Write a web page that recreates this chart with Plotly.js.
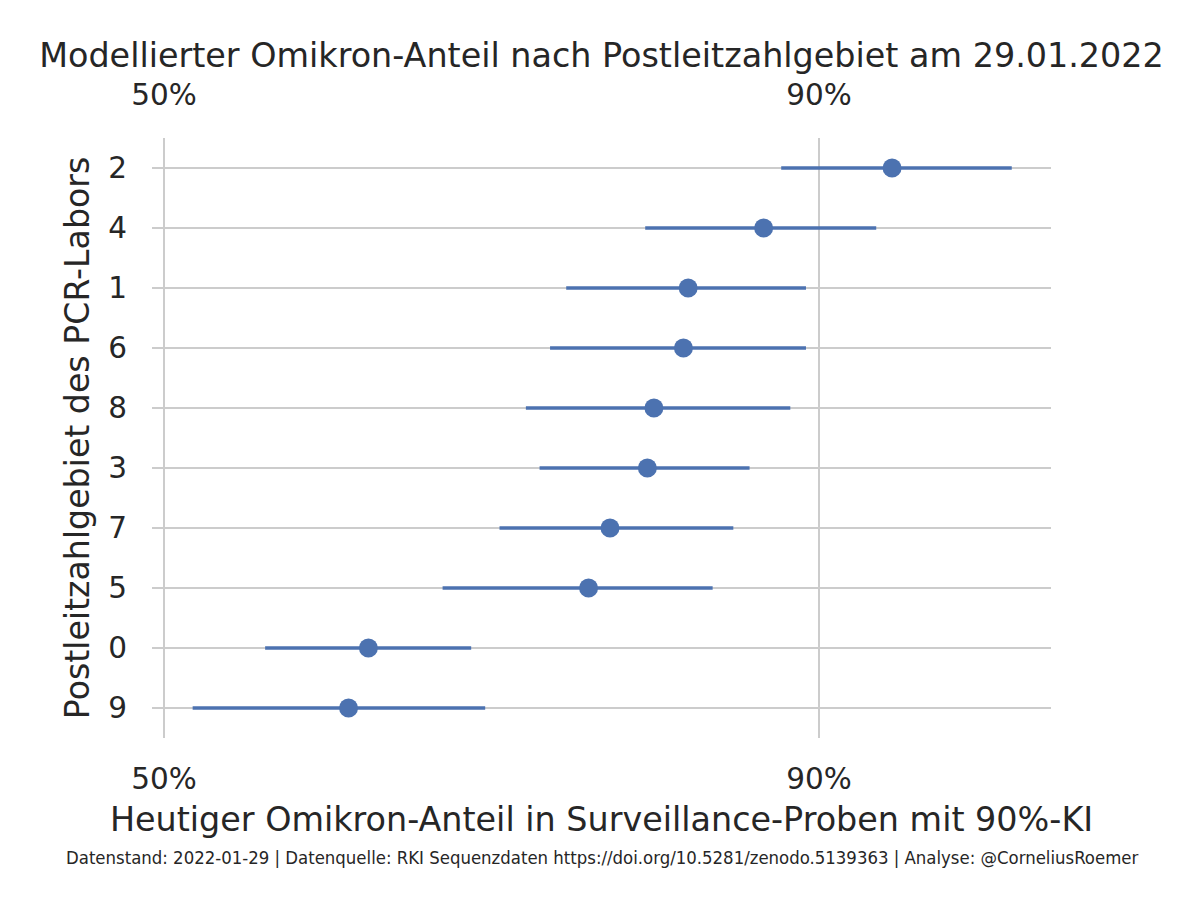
<!DOCTYPE html>
<html>
<head>
<meta charset="utf-8">
<script src="https://cdn.plot.ly/plotly-3.0.1.min.js"></script>
<style>html,body{margin:0;padding:0;background:#fff;}#chart{width:1204px;height:906px;}</style>
</head>
<body>
<div id="chart"></div>
<script>
// Categories (Postleitzahlgebiet), top to bottom
const regions = ["2", "4", "1", "6", "8", "3", "7", "5", "0", "9"];
// Modelled Omicron share (fraction)
const share = [0.920, 0.882, 0.853, 0.851, 0.838, 0.835, 0.817, 0.806, 0.665, 0.650];
// 90% CI lower / upper bounds
const ciLow  = [0.888, 0.834, 0.794, 0.785, 0.771, 0.779, 0.755, 0.718, 0.584, 0.524];
const ciHigh = [0.945, 0.916, 0.896, 0.896, 0.891, 0.877, 0.871, 0.863, 0.737, 0.746];
// Tick labels
const tickShares = [0.5, 0.9];
const tickLabels = ["50%", "90%"];

const logit = p => Math.log(p / (1 - p));
const xs = share.map(logit);
const errPlus = ciHigh.map((h, i) => logit(h) - xs[i]);
const errMinus = ciLow.map((l, i) => xs[i] - logit(l));
const tickVals = tickShares.map(logit);

const blue = "#4c72b0";
const textCol = "#262626";
const grid = "#cccccc";
const xRange = [-0.0403, 2.9755];

const trace = {
  type: "scatter",
  mode: "markers",
  x: xs,
  y: regions,
  marker: {color: blue, size: 19},
  error_x: {
    type: "data", symmetric: false,
    array: errPlus, arrayminus: errMinus,
    color: blue, thickness: 3.6, width: 0
  },
  hoverinfo: "skip",
  showlegend: false
};

const axisCommon = {
  range: xRange,
  tickvals: tickVals,
  ticktext: tickLabels,
  tickfont: {family: "DejaVu Sans", size: 29.5, color: textCol},
  ticks: "outside",
  tickcolor: "rgba(0,0,0,0)",
  zeroline: false,
  showline: false,
  fixedrange: true
};

const layout = {
  width: 1204, height: 906,
  paper_bgcolor: "#ffffff", plot_bgcolor: "#ffffff",
  margin: {l: 152, r: 153, t: 138, b: 168},
  font: {family: "DejaVu Sans", color: textCol},
  title: {
    text: "Modellierter Omikron-Anteil nach Postleitzahlgebiet am 29.01.2022",
    font: {family: "DejaVu Sans", size: 33.4, color: textCol},
    x: 0.5, xanchor: "center", xref: "paper",
    y: 1 - 55 / 906, yref: "container", yanchor: "middle"
  },
  xaxis: Object.assign({}, axisCommon, {
    ticklen: 15,
    showgrid: true, gridcolor: grid, gridwidth: 2.2,
    title: {
      text: "Heutiger Omikron-Anteil in Surveillance-Proben mit 90%-KI",
      font: {family: "DejaVu Sans", size: 33.4, color: textCol},
      standoff: 12
    }
  }),
  xaxis2: Object.assign({}, axisCommon, {
    ticklen: 20,
    overlaying: "x", side: "top", showgrid: false
  }),
  yaxis: {
    type: "category",
    categoryorder: "array",
    categoryarray: regions.slice().reverse(),
    range: [-0.5, regions.length - 0.5],
    tickfont: {family: "DejaVu Sans", size: 29.5, color: textCol},
    ticks: "outside", ticklen: 18, tickcolor: "rgba(0,0,0,0)",
    showgrid: true, gridcolor: grid, gridwidth: 2.2,
    zeroline: false, showline: false, fixedrange: true,
    title: {
      text: "Postleitzahlgebiet des PCR-Labors",
      font: {family: "DejaVu Sans", size: 33.2, color: textCol},
      standoff: 8
    }
  },
  annotations: [{
    text: "Datenstand: 2022-01-29 | Datenquelle: RKI Sequenzdaten https://doi.org/10.5281/zenodo.5139363 | Analyse: @CorneliusRoemer",
    xref: "paper", yref: "paper",
    x: (602 - 152) / 899, y: -(857 - 738) / 600,
    xanchor: "center", yanchor: "middle",
    showarrow: false,
    font: {family: "DejaVu Sans Condensed, DejaVu Sans", size: 18.4, color: textCol}
  }]
};

const dummyTop = {type: "scatter", mode: "markers", x: [tickVals[0]], y: [regions[0]], xaxis: "x2", marker: {opacity: 0}, hoverinfo: "skip", showlegend: false};

Plotly.newPlot("chart", [trace, dummyTop], layout, {staticPlot: true});
</script>
</body>
</html>
